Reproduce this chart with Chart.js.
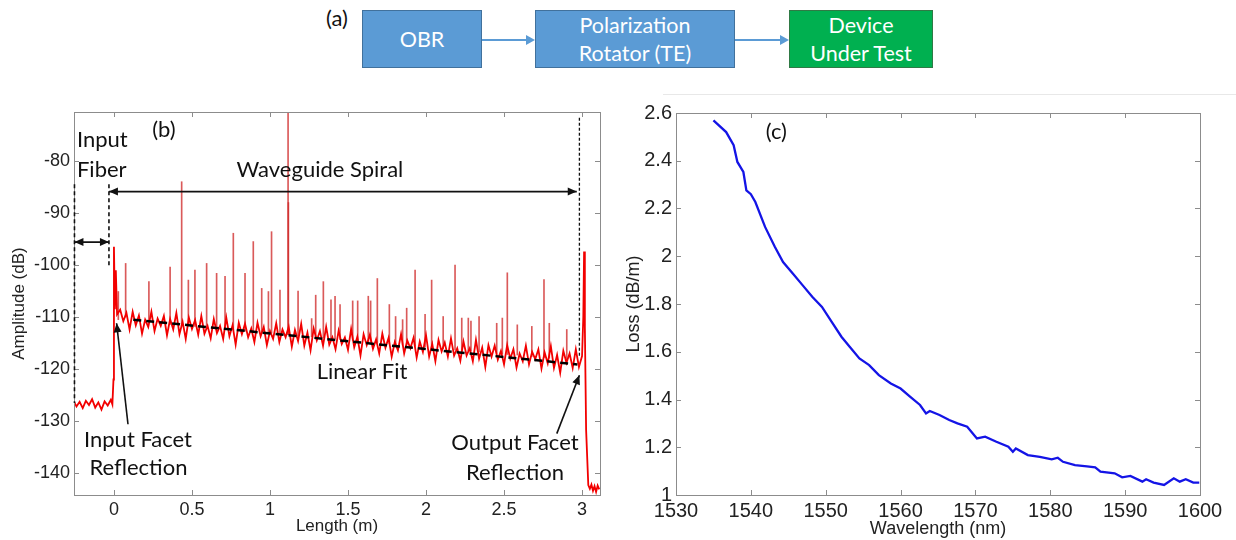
<!DOCTYPE html>
<html>
<head>
<meta charset="utf-8">
<script src="https://cdn.jsdelivr.net/npm/chart.js@4"></script>
<style>
  body { margin: 0; background: #fff; width: 1236px; height: 540px; position: relative; overflow: hidden; font-family: Lato, sans-serif; }
  .box { position: absolute; top: 10px; height: 58px; color: #fff; font-size: 21.5px; line-height: 28px; text-align: center; display: flex; align-items: center; justify-content: center; box-sizing: border-box; }
  .blue { background: #5b9bd5; border: 1px solid #41719c; }
  .green { background: #00b050; border: 1px solid #2f7a45; }
  #tag { position: absolute; left: 326px; top: 4px; font-size: 22px; color: #111; }
  #rule { position: absolute; left: 663px; top: 94px; width: 573px; height: 1px; background: #e8e8e8; }
  canvas { position: absolute; top: 0; }
</style>
</head>
<body>
<div id="tag">(a)</div>
<div class="box blue" style="left:362px;width:120px;">OBR</div>
<div class="box blue" style="left:535px;width:200px;">Polarization<br>Rotator (TE)</div>
<div class="box green" style="left:789px;width:144px;">Device<br>Under Test</div>
<svg style="position:absolute;left:0;top:0" width="1236" height="90">
  <line x1="482" y1="40" x2="527" y2="40" stroke="#5b9bd5" stroke-width="2"/>
  <polygon points="535,40 526,35 526,45" fill="#5b9bd5"/>
  <line x1="735" y1="40" x2="781" y2="40" stroke="#5b9bd5" stroke-width="2"/>
  <polygon points="789,40 780,35 780,45" fill="#5b9bd5"/>
</svg>
<div id="rule"></div>
<canvas id="obrChart" width="610" height="540" style="left:0"></canvas>
<canvas id="lossChart" width="626" height="540" style="left:610px"></canvas>
<script>
// (b) OBR trace
const obrLength = [
  -0.26, -0.24, -0.22, -0.20, -0.18, -0.16, -0.14, -0.12, -0.10, -0.08, -0.06, -0.04, -0.02,
  -0.01, -0.003, 0.0, 0.006, 0.012, 0.02,
  0.04, 0.06, 0.08, 0.10, 0.12, 0.14, 0.16, 0.18, 0.20, 0.22,
  0.24, 0.26, 0.28, 0.30, 0.32, 0.34, 0.36, 0.38, 0.40, 0.42,
  0.44, 0.46, 0.48, 0.50, 0.52, 0.54, 0.56, 0.58, 0.60, 0.62,
  0.64, 0.66, 0.68, 0.70, 0.72, 0.74, 0.76, 0.78, 0.80, 0.82,
  0.84, 0.86, 0.88, 0.90, 0.92, 0.94, 0.96, 0.98, 1.00, 1.02,
  1.04, 1.06, 1.08, 1.10, 1.12, 1.14, 1.16, 1.18, 1.20, 1.22,
  1.24, 1.26, 1.28, 1.30, 1.32, 1.34, 1.36, 1.38, 1.40, 1.42,
  1.44, 1.46, 1.48, 1.50, 1.52, 1.54, 1.56, 1.58, 1.60, 1.62,
  1.64, 1.66, 1.68, 1.70, 1.72, 1.74, 1.76, 1.78, 1.80, 1.82,
  1.84, 1.86, 1.88, 1.90, 1.92, 1.94, 1.96, 1.98, 2.00, 2.02,
  2.04, 2.06, 2.08, 2.10, 2.12, 2.14, 2.16, 2.18, 2.20, 2.22,
  2.24, 2.26, 2.28, 2.30, 2.32, 2.34, 2.36, 2.38, 2.40, 2.42,
  2.44, 2.46, 2.48, 2.50, 2.52, 2.54, 2.56, 2.58, 2.60, 2.62,
  2.64, 2.66, 2.68, 2.70, 2.72, 2.74, 2.76, 2.78, 2.80, 2.82,
  2.84, 2.86, 2.88, 2.90, 2.92, 2.94, 2.96, 2.98,
  3.0, 3.008, 3.013, 3.018, 3.026, 3.04, 3.05, 3.06, 3.07, 3.08, 3.09, 3.10, 3.11
];
const obrAmp = [
  -126.0, -127.2, -126.3, -127.5, -126.1, -126.9, -125.8, -127.4, -126.4, -127.8, -126.2, -127.0, -125.9,
  -126.8, -122.0, -96.5, -108.5, -101.0, -109.5,
  -108.6, -110.8, -109.2, -112.4, -109.0, -111.6, -109.7, -113.2, -110.5, -111.9,
  -109.0, -112.7, -110.3, -111.7, -109.8, -113.5, -110.4, -112.4, -109.2, -113.3,
  -110.9, -114.2, -110.1, -112.3, -110.6, -113.4, -109.8, -113.2, -111.7, -114.1,
  -110.4, -113.1, -111.7, -114.2, -110.1, -113.7, -111.6, -115.3, -111.1, -113.3,
  -111.3, -113.9, -112.2, -114.8, -111.1, -113.7, -111.9, -115.4, -112.7, -114.2,
  -111.2, -114.8, -112.4, -113.9, -111.9, -115.7, -112.5, -114.6, -111.3, -115.5,
  -113.0, -116.4, -112.2, -114.5, -112.7, -115.5, -111.9, -115.3, -113.9, -116.2,
  -112.6, -115.2, -113.9, -116.3, -112.3, -115.8, -113.8, -117.4, -113.3, -115.4,
  -113.4, -116.1, -114.3, -117.0, -113.2, -115.9, -114.0, -117.6, -114.8, -116.4,
  -113.3, -117.0, -114.5, -116.0, -114.0, -117.8, -114.7, -116.7, -113.5, -117.6,
  -115.2, -118.5, -114.4, -116.6, -114.9, -117.6, -114.1, -117.4, -116.0, -118.4,
  -114.7, -117.4, -116.0, -118.5, -114.4, -118.0, -115.9, -119.6, -115.4, -117.6,
  -115.5, -118.2, -116.5, -119.1, -115.4, -118.0, -116.2, -119.7, -117.0, -118.5,
  -115.5, -119.1, -116.7, -118.1, -116.2, -119.9, -116.8, -118.9, -115.6, -119.8,
  -117.3, -120.7, -116.5, -118.8, -117.0, -119.8, -116.2, -119.6,
  -117.5, -110.0, -97.4, -112.0, -131.7, -142.3, -143.0, -142.2, -143.4, -142.5, -143.6, -142.4, -143.1
];
// reflection spikes standing above the noise floor
const spikeLength = [0.028, 0.075, 0.224, 0.36, 0.434, 0.477, 0.519, 0.594, 0.658, 0.712, 0.765, 0.84, 0.893, 0.947, 0.99, 1.01, 1.064, 1.116, 1.118, 1.18,
  1.267, 1.293, 1.342, 1.391, 1.417, 1.449, 1.53, 1.562, 1.63, 1.645, 1.688, 1.765, 1.805, 1.85, 1.876, 1.93, 1.994, 2.036, 2.11, 2.186,
  2.229, 2.271, 2.288, 2.34, 2.453, 2.489, 2.521, 2.585, 2.678, 2.756, 2.79, 2.902];
const spikeBase = [-110.5, -110.0, -111.0, -111.4, -111.6, -111.7, -111.8, -112.0, -112.2, -112.3, -112.5, -112.7, -112.8, -112.9, -113.1, -113.1, -113.3, -113.4, -113.4, -113.6,
  -113.8, -113.9, -114.0, -114.1, -114.2, -114.3, -114.5, -114.6, -114.8, -114.8, -114.9, -115.1, -115.2, -115.4, -115.4, -115.6, -115.7, -115.9, -116.1, -116.3,
  -116.4, -116.5, -116.5, -116.7, -117.0, -117.1, -117.2, -117.3, -117.6, -117.8, -117.9, -118.2];
const spikePeak = [-105.1, -99.7, -103.2, -100.4, -84.0, -102.9, -101.0, -99.7, -101.6, -102.2, -93.9, -101.6, -95.5, -104.5, -105.1, -93.6, -104.8, -66.0, -88.0, -105.0,
  -110.3, -105.8, -103.2, -106.7, -106.0, -107.6, -106.9, -106.9, -106.0, -106.9, -102.6, -107.6, -109.9, -110.5, -108.3, -101.0, -109.5, -102.9, -109.9, -100.0,
  -110.2, -110.2, -110.8, -109.9, -111.2, -110.2, -101.5, -111.5, -111.8, -102.8, -111.2, -112.4];
const fitLength = [0.124, 2.97];
const fitAmp = [-110.5, -119.1];
const lengthTicks = [0, 0.5, 1, 1.5, 2, 2.5, 3];
const ampTicks = [-140, -130, -120, -110, -100, -90, -80];

// (c) propagation loss
const lossWavelength = [1535, 1536.7, 1537.7, 1538.2, 1539, 1539.4, 1540, 1540.6, 1541.9, 1543.2, 1544.3, 1545.6, 1546.9, 1548.2, 1549.5,
  1550.8, 1552.1, 1553.2, 1554.5, 1555.8, 1557.1, 1558.7, 1560, 1561.3, 1562.6, 1563.4, 1563.9, 1565.2, 1566.5, 1567.6,
  1568.9, 1570.2, 1571.3, 1572.8, 1574.4, 1575, 1575.4, 1577, 1578.6, 1580.2, 1581, 1581.7, 1583.3, 1584.9, 1586,
  1586.7, 1588.6, 1589.6, 1590.7, 1592.3, 1592.8, 1593.8, 1595.2, 1596.5, 1597.3, 1598.1, 1599.1, 1599.9];
const lossValue = [2.569, 2.52, 2.465, 2.395, 2.353, 2.276, 2.26, 2.227, 2.123, 2.04, 1.976, 1.928, 1.879, 1.83, 1.788,
  1.725, 1.663, 1.621, 1.572, 1.544, 1.502, 1.467, 1.446, 1.411, 1.377, 1.342, 1.352, 1.335, 1.314, 1.30,
  1.286, 1.237, 1.244, 1.223, 1.202, 1.181, 1.195, 1.167, 1.16, 1.149, 1.156, 1.139, 1.125, 1.12, 1.116,
  1.098, 1.091, 1.074, 1.080, 1.056, 1.066, 1.052, 1.042, 1.07, 1.056, 1.066, 1.052, 1.052];
const wavelengthTicks = [1530, 1540, 1550, 1560, 1570, 1580, 1590, 1600];
const lossTicks = [1, 1.2, 1.4, 1.6, 1.8, 2, 2.2, 2.4, 2.6];

const tickFont = 'Liberation Sans';
const noteFont = '22px Lato';

// matlab style box with inward ticks
const framePlugin = {
  id: 'frame',
  afterDraw(chart) {
    const { ctx, chartArea: a } = chart;
    const x = chart.scales.x, y = chart.scales.y;
    ctx.save();
    ctx.strokeStyle = '#8c8c8c';
    ctx.lineWidth = 1;
    ctx.strokeRect(Math.round(a.left) + 0.5, Math.round(a.top) + 0.5, Math.round(a.right - a.left), Math.round(a.bottom - a.top));
    ctx.beginPath();
    x.ticks.forEach(t => {
      const p = Math.round(x.getPixelForValue(t.value)) + 0.5;
      ctx.moveTo(p, a.bottom); ctx.lineTo(p, a.bottom - 5);
      ctx.moveTo(p, a.top); ctx.lineTo(p, a.top + 5);
    });
    y.ticks.forEach(t => {
      const p = Math.round(y.getPixelForValue(t.value)) + 0.5;
      ctx.moveTo(a.left, p); ctx.lineTo(a.left + 5, p);
      ctx.moveTo(a.right, p); ctx.lineTo(a.right - 5, p);
    });
    ctx.stroke();
    ctx.restore();
  }
};

function arrowHead(ctx, fx, fy, tx, ty) {
  const ang = Math.atan2(ty - fy, tx - fx), L = 9, W = 4;
  const c = Math.cos(ang), s = Math.sin(ang);
  ctx.beginPath();
  ctx.moveTo(tx, ty);
  ctx.lineTo(tx - L * c + W * s, ty - L * s - W * c);
  ctx.lineTo(tx - L * c - W * s, ty - L * s + W * c);
  ctx.closePath();
  ctx.fill();
}

function notesPlugin(notes) {
  return {
    id: 'notes',
    afterDraw(chart) {
      const { ctx } = chart;
      const px = v => chart.scales.x.getPixelForValue(v);
      const py = v => chart.scales.y.getPixelForValue(v);
      ctx.save();
      ctx.strokeStyle = '#111';
      ctx.fillStyle = '#111';
      (notes.dashes || []).forEach(d => {
        ctx.setLineDash(d.dash);
        ctx.lineWidth = d.width;
        ctx.beginPath();
        ctx.moveTo(px(d.x), py(d.y0));
        ctx.lineTo(px(d.x), py(d.y1));
        ctx.stroke();
      });
      ctx.setLineDash([]);
      (notes.arrows || []).forEach(r => {
        const x0 = px(r.x0), y0 = py(r.y0), x1 = px(r.x1), y1 = py(r.y1);
        ctx.lineWidth = 1.6;
        ctx.beginPath();
        ctx.moveTo(x0, y0);
        ctx.lineTo(x1, y1);
        ctx.stroke();
        arrowHead(ctx, x0, y0, x1, y1);
        if (r.both) arrowHead(ctx, x1, y1, x0, y0);
      });
      (notes.texts || []).forEach(t => {
        ctx.font = t.font || noteFont;
        ctx.textAlign = t.align || 'center';
        ctx.textBaseline = 'middle';
        ctx.fillText(t.text, px(t.x), py(t.y));
      });
      ctx.restore();
    }
  };
}

function axis(min, max, ticks, title, size, titleSize, titlePad, fixed, isX) {
  return {
    type: 'linear',
    min: min,
    max: max,
    offset: false,
    grid: { display: false, drawTicks: false },
    border: { display: false },
    afterBuildTicks: s => { s.ticks = ticks.map(v => ({ value: v })); },
    afterFit: s => { if (isX) s.height = fixed; else s.width = fixed; },
    ticks: {
      autoSkip: false,
      maxRotation: 0,
      padding: 4,
      color: '#222',
      font: { family: tickFont, size: size },
      callback: v => String(v)
    },
    title: { display: true, text: title, color: '#222', font: { family: tickFont, size: titleSize }, padding: titlePad }
  };
}

window.addEventListener('load', function () {
  Chart.defaults.animation = false;

  new Chart(document.getElementById('obrChart'), {
    type: 'line',
    data: {
      datasets: [
        {
          data: fitLength.map((x, i) => ({ x: x, y: fitAmp[i] })),
          borderColor: '#000',
          borderWidth: 2.5,
          borderDash: [8, 5],
          pointRadius: 0,
          order: 0
        },
        {
          data: obrLength.map((x, i) => ({ x: x, y: obrAmp[i] })),
          borderColor: '#f20000',
          borderWidth: 1.8,
          pointRadius: 0,
          tension: 0,
          order: 1
        },
        {
          type: 'bar',
          data: spikeLength.map((x, i) => ({ x: x, y: [spikeBase[i], spikePeak[i]] })),
          backgroundColor: 'rgba(205, 35, 35, 0.75)',
          borderWidth: 0,
          barThickness: 1,
          grouped: false,
          order: 2
        }
      ]
    },
    options: {
      responsive: false,
      layout: { padding: { top: 112, right: 10, left: 0, bottom: 0 } },
      plugins: { legend: { display: false }, tooltip: { enabled: false } },
      scales: {
        x: axis(-0.256, 3.115, lengthTicks, 'Length (m)', 18, 17, { top: 0, bottom: 3 }, 45, true),
        y: axis(-144.2, -70.6, ampTicks, 'Amplitude (dB)', 18, 17, { top: 9, bottom: 0 }, 74, false)
      }
    },
    plugins: [framePlugin, notesPlugin({
      dashes: [
        { x: -0.253, y0: -84.5, y1: -126.5, dash: [4, 3], width: 1.6 },
        { x: -0.032, y0: -84.5, y1: -100.5, dash: [4, 3], width: 1.6 },
        { x: 2.983, y0: -71.7, y1: -117.6, dash: [3, 2], width: 1.3 }
      ],
      arrows: [
        { x0: -0.253, y0: -95.6, x1: -0.032, y1: -95.6, both: true },
        { x0: -0.032, y0: -85.9, x1: 2.966, y1: -85.9, both: true },
        { x0: 0.09, y0: -130.6, x1: 0.017, y1: -111.2 },
        { x0: 2.838, y0: -132.4, x1: 2.983, y1: -121.2 }
      ],
      texts: [
        { text: '(b)', x: 0.32, y: -74.0 },
        { text: 'Input', x: -0.237, y: -76.0, align: 'left' },
        { text: 'Fiber', x: -0.237, y: -81.7, align: 'left' },
        { text: 'Waveguide Spiral', x: 1.32, y: -81.7 },
        { text: 'Linear Fit', x: 1.59, y: -120.6 },
        { text: 'Input Facet', x: 0.154, y: -133.7 },
        { text: 'Reflection', x: 0.157, y: -139.0 },
        { text: 'Output Facet', x: 2.57, y: -134.2 },
        { text: 'Reflection', x: 2.57, y: -140.0 }
      ]
    })]
  });

  new Chart(document.getElementById('lossChart'), {
    type: 'line',
    data: {
      datasets: [{
        data: lossWavelength.map((x, i) => ({ x: x, y: lossValue[i] })),
        borderColor: '#1414e6',
        borderWidth: 2.3,
        pointRadius: 0,
        tension: 0
      }]
    },
    options: {
      responsive: false,
      layout: { padding: { top: 113, right: 36, left: 0, bottom: 0 } },
      plugins: { legend: { display: false }, tooltip: { enabled: false } },
      scales: {
        x: axis(1530, 1600, wavelengthTicks, 'Wavelength (nm)', 20, 18, { top: 0, bottom: 0 }, 45, true),
        y: axis(1, 2.6, lossTicks, 'Loss (dB/m)', 20, 18, { top: 13, bottom: 0 }, 66, false)
      }
    },
    plugins: [framePlugin, notesPlugin({
      texts: [{ text: '(c)', x: 1543.4, y: 2.52 }]
    })]
  });
});
</script>
</body>
</html>
